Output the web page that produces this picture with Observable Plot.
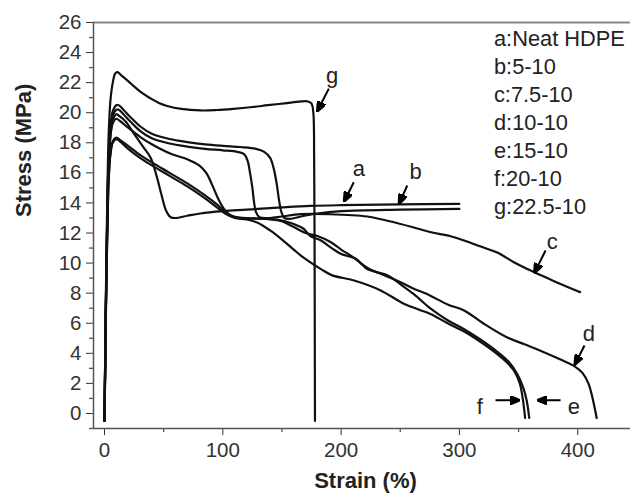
<!DOCTYPE html>
<html>
<head>
<meta charset="utf-8">
<script src="https://cdn.jsdelivr.net/npm/d3@7"></script>
<script src="https://cdn.jsdelivr.net/npm/@observablehq/plot@0.6"></script>
<style>
  html, body { margin: 0; padding: 0; background: #fff; }
  #chart { width: 630px; height: 497px; }
</style>
</head>
<body>
<div id="chart"></div>
<script>
// ---- Data (strain %, stress MPa) ----
const curveG = [[0,-0.5],[0.6,4],[1.5,10],[2.5,15],[3.5,18.5],[5,20.8],[7,22],[9,22.6],[11,22.7],[14,22.5],[20,22.1],[25,21.75],[32,21.3],[39,20.95],[46,20.65],[53,20.45],[65,20.25],[81,20.15],[95,20.18],[109,20.26],[125,20.38],[138,20.5],[152,20.62],[166,20.75],[172,20.75],[175,20.6],[176.5,20],[177.2,17],[177.6,10],[177.8,3],[177.9,-0.5]];
const curveA = [[0,-0.5],[0.6,3.5],[1.5,9],[2.5,13.5],[3.5,16.5],[5,18.5],[7,19.5],[10,19.9],[13,19.75],[18,19.4],[25,18.6],[33,17.7],[39,17.0],[44,15.8],[48,14.6],[52,13.5],[56,13.05],[60,13.0],[70,13.15],[81,13.3],[100,13.45],[120,13.55],[150,13.7],[174,13.8],[200,13.85],[250,13.9],[300,13.94]];
const curveB = [[0,-0.5],[0.6,3.5],[1.5,9],[2.5,14],[3.5,17],[5,19],[7,20.1],[10,20.5],[12,20.5],[16,20.2],[22,19.7],[30,19.1],[40,18.6],[55,18.25],[70,18.05],[85,17.9],[100,17.8],[115,17.72],[128,17.6],[135,17.4],[140,17.0],[143,16.3],[145.5,15.3],[147.5,14.2],[149.5,13.4],[152,13.0],[158,12.95],[166,13.1],[180,13.3],[200,13.45],[250,13.55],[300,13.6]];
const curveC = [[0,-0.5],[0.6,3.5],[1.5,9],[2.5,14],[3.5,17],[5,18.9],[7,19.8],[10,20.2],[12,20.2],[16,19.9],[22,19.4],[30,18.8],[40,18.3],[55,17.95],[70,17.75],[85,17.6],[100,17.5],[112,17.4],[118,17.25],[121,16.8],[123,16.0],[125,15.0],[126.5,14.0],[128,13.4],[131,13.05],[140,13.0],[150,13.1],[166,13.25],[190,13.25],[222,13.1],[240,12.8],[260,12.4],[276,12.05],[292,11.8],[304,11.5],[318,11.1],[332,10.7],[346,10.06],[363,9.4],[380,8.8],[402,8.07]];
const curveD = [[0,-0.5],[0.6,3.5],[1.5,9],[2.5,13.5],[3.5,16.5],[5,18.4],[7,19.3],[10,19.6],[13,19.45],[20,19.0],[30,18.4],[40,17.9],[55,17.3],[70,16.9],[80,16.5],[86,16.0],[91,15.2],[96,14.3],[101,13.6],[106,13.2],[115,13.0],[130,12.95],[149,12.85],[160,12.6],[168,12.3],[174,11.8],[183,11.5],[192,11.0],[200,10.6],[212,10.3],[222,9.6],[230,9.4],[247,8.84],[260,8.35],[275,7.85],[290,7.25],[304,6.85],[320,6.0],[340,5.07],[355,4.6],[368,4.19],[385,3.6],[397,3.15],[404,2.7],[409,2.0],[412,1.2],[414.5,0.3],[416,-0.3]];
const curveE = [[0,-0.5],[0.6,3],[1.5,8.5],[2.5,12.5],[3.5,15.5],[5,17.3],[7,18.1],[10,18.35],[13,18.2],[20,17.8],[30,17.2],[40,16.7],[55,16.0],[70,15.3],[85,14.5],[95,13.9],[102,13.4],[108,13.1],[120,13.0],[135,12.95],[149,12.8],[160,12.4],[170,12.0],[180,11.8],[191,11.4],[200,10.9],[210,10.4],[220,9.8],[228,9.45],[239,9.2],[250,8.6],[262,7.9],[276,6.95],[290,6.2],[304,5.6],[318,4.9],[332,4.1],[342,3.4],[349,2.6],[354,1.7],[357,0.8],[359,-0.3]];
const curveF = [[0,-0.5],[0.6,3],[1.5,8.5],[2.5,12.5],[3.5,15.5],[5,17.2],[7,18.0],[10,18.25],[13,18.1],[20,17.6],[30,17.0],[40,16.5],[55,15.8],[70,15.1],[85,14.3],[95,13.7],[102,13.3],[110,13.0],[120,12.9],[129,12.7],[140,12.17],[151,11.5],[160,10.9],[166,10.5],[175,10.0],[183,9.6],[192,9.2],[211,8.84],[233,8.2],[253,7.3],[266,6.9],[276,6.6],[290,6.0],[304,5.45],[318,4.75],[332,3.95],[340,3.4],[346,2.86],[351,2.0],[353.5,1.0],[355.5,-0.3]];

const legendLabels = ["a:Neat HDPE","b:5-10","c:7.5-10","d:10-10","e:15-10","f:20-10","g:22.5-10"];

// annotation letters and arrows (data coordinates)
const annotText = ["g","a","b","c","d","f","e"];
const annotX = [192.5, 215, 262.9, 378.4, 409.4, 317.2, 396.7];
const annotY = [22.47, 16.27, 16.04, 11.39, 5.3, 0.42, 0.42];
const arrowX1 = [189.6, 210.7, 255.9, 372.8, 405.7, 330.5, 385.5];
const arrowY1 = [21.6, 15.38, 15.16, 10.84, 4.52, 0.88, 0.88];
const arrowX2 = [180.5, 203.2, 249.6, 364.0, 398.2, 349.5, 367.5];
const arrowY2 = [20.2, 14.2, 14.05, 9.45, 3.35, 0.88, 0.88];

const xMajor = [0, 100, 200, 300, 400];
const xMinor = [50, 150, 250, 350];
const yMajor = [0, 2, 4, 6, 8, 10, 12, 14, 16, 18, 20, 22, 24, 26];
const yMinor = [-1, 1, 3, 5, 7, 9, 11, 13, 15, 17, 19, 21, 23, 25];

const xDomain = [-9.3, 444.6];
const yDomain = [-1, 26];

// ---- Build ----
const curves = [curveA, curveB, curveC, curveD, curveE, curveF, curveG];
const lineData = curves.flatMap((c, k) => c.map(([x, y]) => ({x, y, k})));
const annots = annotText.map((t, i) => ({t, x: annotX[i], y: annotY[i]}));
const arrows = arrowX1.map((x1, i) => ({x1, y1: arrowY1[i], x2: arrowX2[i], y2: arrowY2[i]}));
const legendTop = 24.87, legendStep = 1.857, legendX = 329.2;
const legend = legendLabels.map((t, i) => ({t, x: legendX, y: legendTop - i * legendStep}));

function headMarker(color) {
  const m = d3.create("svg:marker")
    .attr("viewBox", "-7 -4 9 8")
    .attr("markerWidth", 5.2)
    .attr("markerHeight", 4.6)
    .attr("orient", "auto")
    .attr("markerUnits", "strokeWidth")
    .attr("fill", color);
  m.append("path").attr("d", "M-7,-3.6L2,0L-7,3.6Z");
  return m.node();
}

const xPxPerUnit = (630 - 93) / (xDomain[1] - xDomain[0]);
const yPxPerUnit = (428 - 22) / (yDomain[1] - yDomain[0]);
const minorLen = 4;

const font = "'Liberation Sans', Arial, Helvetica, sans-serif";

let arrowMark;
try {
  arrowMark = Plot.link(arrows, {x1: "x1", y1: "y1", x2: "x2", y2: "y2", stroke: "#000", strokeWidth: 2, markerEnd: headMarker});
} catch (e) {
  arrowMark = Plot.arrow(arrows, {x1: "x1", y1: "y1", x2: "x2", y2: "y2", stroke: "#000", strokeWidth: 2.5, headLength: 9});
}

const chart = Plot.plot({
  width: 630,
  height: 497,
  marginLeft: 93,
  marginRight: 0,
  marginTop: 22,
  marginBottom: 69,
  style: {fontFamily: font, fontSize: "20.5px", color: "#333", background: "#fff"},
  x: {domain: xDomain, ticks: xMajor, tickSize: 7, tickPadding: 7, tickFormat: d => String(d), label: null},
  y: {domain: yDomain, ticks: yMajor, tickSize: 7, tickPadding: 5, tickFormat: d => String(d), label: null},
  marks: [
    // frame
    Plot.ruleY([yDomain[1]], {stroke: "#888", strokeWidth: 2}),
    Plot.ruleY([yDomain[0]], {stroke: "#555", strokeWidth: 1.5}),
    Plot.ruleX([xDomain[0]], {y1: yDomain[0], y2: yDomain[1], stroke: "#555", strokeWidth: 1.5}),
    // minor ticks
    Plot.ruleX(xMinor, {y1: yDomain[0], y2: yDomain[0] - minorLen / yPxPerUnit, stroke: "#555", strokeWidth: 1.3}),
    Plot.ruleY(yMinor, {x1: xDomain[0], x2: xDomain[0] - minorLen / xPxPerUnit, stroke: "#555", strokeWidth: 1.3}),
    // curves
    Plot.line(lineData, {x: "x", y: "y", z: "k", stroke: "#111", strokeWidth: 2.2, curve: "catmull-rom"}),
    // arrows & letters
    arrowMark,
    Plot.text(annots, {x: "x", y: "y", text: "t", fontSize: 22, fill: "#222", fontFamily: font}),
    // legend
    Plot.text(legend, {x: "x", y: "y", text: "t", textAnchor: "start", fontSize: 21.8, fill: "#222", fontFamily: font}),
    // axis titles
    Plot.text(["Strain (%)"], {frameAnchor: "bottom", dy: 59, dx: 3.5, fontSize: 22, fontWeight: "bold", fill: "#222", fontFamily: font}),
    Plot.text(["Stress (MPa)"], {frameAnchor: "left", rotate: -90, dx: -70, dy: -8.5, fontSize: 22, fontWeight: "bold", fill: "#222", fontFamily: font})
  ]
});
document.getElementById("chart").appendChild(chart);
</script>
</body>
</html>
